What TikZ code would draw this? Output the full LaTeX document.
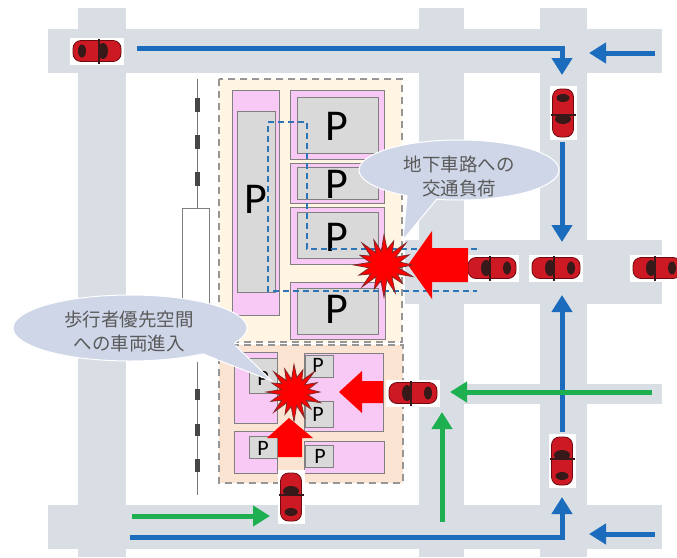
\documentclass[tikz,border=0pt]{standalone}
\usepackage{fontspec}
\newfontfamily\jpfont{Noto Sans CJK JP}
\newfontfamily\pfont{Carlito}
\usetikzlibrary{arrows.meta}

\definecolor{roadc}{RGB}{217,222,228}
\definecolor{creamc}{RGB}{255,245,226}
\definecolor{peachc}{RGB}{252,228,210}
\definecolor{pinkc}{RGB}{249,201,245}
\definecolor{boxgray}{RGB}{217,217,217}
\definecolor{edgegray}{RGB}{128,128,128}
\definecolor{dashgray}{RGB}{150,150,150}
\definecolor{routeblue}{RGB}{46,117,182}
\definecolor{arrblue}{RGB}{28,108,190}
\definecolor{arrgreen}{RGB}{30,175,80}
\definecolor{carred}{RGB}{205,25,35}
\definecolor{cardark}{RGB}{110,10,15}
\definecolor{carwin}{RGB}{55,25,25}
\definecolor{burstedge}{RGB}{130,40,40}
\definecolor{bubblec}{RGB}{206,214,232}
\definecolor{bubtextc}{RGB}{90,90,90}
\definecolor{railc}{RGB}{70,70,70}
\definecolor{raillight}{RGB}{120,120,120}

\tikzset{
  road/.style={fill=roadc, draw=none},
  lotupper/.style={fill=creamc, draw=dashgray, dash pattern=on 7pt off 5pt, line width=1.1pt},
  lotlower/.style={fill=peachc, draw=dashgray, dash pattern=on 7pt off 5pt, line width=1.1pt},
  pinkbox/.style={fill=pinkc, draw=edgegray, line width=0.7pt},
  graybox/.style={fill=boxgray, draw=edgegray, line width=0.7pt},
  bigP/.style={font=\pfont\fontsize{44}{44}\selectfont, inner sep=0pt},
  smallP/.style={font=\pfont\fontsize{22}{22}\selectfont, inner sep=0pt},
  route/.style={draw=routeblue, dash pattern=on 6pt off 4pt, line width=1.4pt},
  bluearrow/.style={draw=arrblue, line width=5pt, -{Triangle[width=20pt,length=17pt]}},
  greenarrow/.style={draw=arrgreen, line width=5pt, -{Triangle[width=20pt,length=17pt]}},
  blockarrow/.style={fill=red, draw=none},
  burststyle/.style={fill=red, draw=burstedge, line width=0.8pt, line join=miter},
  bubble/.style={fill=bubblec, draw=white, line width=1pt},
  bubtext/.style={font=\jpfont\fontsize{18.5}{24}\selectfont, text=bubtextc, align=center, inner sep=0pt},
  railthin/.style={draw=raillight, line width=1pt},
  railtie/.style={draw=railc, line width=5pt},
  car/.pic={
    \fill[white] (-27,-13.5) rectangle (27,13.5);
    \draw[draw=cardark, fill=carred, line width=0.8pt, rounded corners=8pt]
      (-24,-10.5) rectangle (24,10.5);
    \fill[carwin] (-15,0) ellipse [x radius=4pt, y radius=6.5pt];
    \fill[carwin] (6,0) ellipse [x radius=5pt, y radius=8pt];
    \draw[carwin, line width=1.3pt] (2,-12.5) -- (2,12.5);
  },
  burst/.pic={
    \draw[burststyle] (0:28) -- (11:15) -- (22:31) -- (34:16) -- (45:26) -- (56:14)
      -- (68:30) -- (79:15) -- (90:32) -- (101:16) -- (112:26) -- (124:14)
      -- (135:31) -- (146:16) -- (158:27) -- (169:15) -- (180:30) -- (191:14)
      -- (202:26) -- (214:16) -- (225:31) -- (236:15) -- (248:27) -- (259:14)
      -- (270:30) -- (281:16) -- (292:26) -- (304:15) -- (315:31) -- (326:14)
      -- (338:27) -- (349:16) -- cycle;
  }
}

\begin{document}
\begin{tikzpicture}[x=1pt, y=-1pt]
\useasboundingbox (0,0) rectangle (677,557);
\fill[white] (0,0) rectangle (677,557);

% street grid
\fill[road] (48,29) rectangle (662,73);
\fill[road] (48,505) rectangle (662,549);
\fill[road] (78,8) rectangle (126,557);
\fill[road] (419,8) rectangle (464,557);
\fill[road] (540,8) rectangle (587,557);
\fill[road] (405,240) rectangle (662,304);
\fill[road] (419,384) rectangle (662,404);

% railway and station building along the west side
\draw[railthin] (197,79) -- (197,208);
\draw[railtie] (197,98) -- (197,112);
\draw[railtie] (197,135) -- (197,149);
\draw[railtie] (197,172) -- (197,186);
\draw[edgegray, fill=white, line width=0.9pt] (182,208) rectangle (209,310);
\draw[railthin] (197,362) -- (197,495);
\draw[railtie] (197,389) -- (197,400);
\draw[railtie] (197,424) -- (197,436);
\draw[railtie] (197,459) -- (197,472);

% upper block with its parking
\draw[lotupper] (219,79) rectangle (402,342);
\draw[pinkbox] (232,90) rectangle (279,315);
\draw[graybox] (237,111) rectangle (275,292);
\draw[pinkbox] (290,90) rectangle (384,159);
\draw[graybox] (297,97) rectangle (378,153);
\draw[pinkbox] (290,163) rectangle (384,203);
\draw[graybox] (297,167) rectangle (378,199);
\draw[pinkbox] (290,207) rectangle (384,264);
\draw[graybox] (297,212) rectangle (378,258);
\draw[pinkbox] (290,282) rectangle (385,339);
\draw[graybox] (297,288) rectangle (378,334);
\node[bigP] (pL)  at (256,199) {P};
\node[bigP] (pR1) at (337,126) {P};
\node[bigP] (pR2) at (337,184) {P};
\node[bigP] (pR3) at (337,237) {P};
\node[bigP] (pR4) at (337,309) {P};

% lower block with its parking
\draw[lotlower] (219,345) rectangle (403,483);
\draw[pinkbox] (234,352) rectangle (277,423);
\draw[graybox] (249,358) rectangle (277,393);
\draw[pinkbox] (304,353) rectangle (383,431);
\draw[graybox] (305,355) rectangle (333,377);
\draw[graybox] (305,401) rectangle (333,427);
\draw[pinkbox] (234,431) rectangle (277,473);
\draw[graybox] (249,436) rectangle (277,458);
\draw[pinkbox] (304,441) rectangle (384,473);
\draw[graybox] (305,445) rectangle (333,467);
\node[smallP] (pA)  at (263,378) {P};
\node[smallP] (pB1) at (318,365) {P};
\node[smallP] (pB2) at (318,414) {P};
\node[smallP] (pC)  at (263,448) {P};
\node[smallP] (pD)  at (320,456) {P};

% underground access road outline
\coordinate (u1) at (477,249);
\coordinate (u2) at (307,249);
\coordinate (u3) at (307,122);
\coordinate (u4) at (268,122);
\coordinate (u5) at (268,291);
\coordinate (u6) at (477,291);
\draw[route] (u1) -- (u2) -- (u3) -- (u4) -- (u5) -- (u6);

% traffic flows
\coordinate (b1s) at (137,48);  \coordinate (b1c) at (562,48);  \coordinate (b1e) at (562,75);
\coordinate (b2s) at (655,53);  \coordinate (b2e) at (589,53);
\coordinate (b3s) at (562,142); \coordinate (b3e) at (562,242);
\coordinate (b4s) at (130,537); \coordinate (b4c) at (562,537); \coordinate (b4e) at (562,497);
\coordinate (b5s) at (562,432); \coordinate (b5e) at (562,295);
\coordinate (b6s) at (655,534); \coordinate (b6e) at (589,534);
\draw[bluearrow] (b1s) -- (b1c) -- (b1e);
\draw[bluearrow] (b2s) -- (b2e);
\draw[bluearrow] (b3s) -- (b3e);
\draw[bluearrow] (b4s) -- (b4c) -- (b4e);
\draw[bluearrow] (b5s) -- (b5e);
\draw[bluearrow] (b6s) -- (b6e);

\coordinate (g1s) at (652,392); \coordinate (g1e) at (450,392);
\coordinate (g2s) at (442,522); \coordinate (g2e) at (442,412);
\coordinate (g3s) at (132,516); \coordinate (g3e) at (270,516);
\draw[greenarrow] (g1s) -- (g1e);
\draw[greenarrow] (g2s) -- (g2e);
\draw[greenarrow] (g3s) -- (g3e);

% cars
\pic (car1) at (97,51) {car};
\pic[rotate=-90] (car2) at (563,113) {car};
\pic[rotate=180] (car3) at (492,268) {car};
\pic[rotate=180] (car4) at (556,268) {car};
\pic[rotate=180] (car5) at (657,268) {car};
\pic[rotate=180] (car6) at (413,393) {car};
\pic[rotate=90] (car7) at (562,461) {car};
\pic[rotate=90] (car8) at (291,497) {car};

% speech bubbles
\draw[bubble] (459,170) ellipse [x radius=100pt, y radius=30pt];
\fill[bubblec] (408,190) -- (403,240) -- (440,194) -- cycle;
\draw[white, line width=1pt] (407,196) -- (403,240) -- (437,199);
\node[bubtext] (note1) at (459,176) {地下車路への\\交通負荷};

\draw[bubble] (130,328) ellipse [x radius=117pt, y radius=33pt];
\fill[bubblec] (200,352) -- (272,381) -- (232,341) -- cycle;
\draw[white, line width=1pt] (205,355) -- (272,381) -- (236,346);
\node[bubtext] (note2) at (129,331) {歩行者優先空間\\への車両進入};

% conflict points: vehicles pushing into the blocks
\fill[blockarrow] (408,265) -- (432,231) -- (432,248) -- (468,248) -- (468,282)
  -- (432,282) -- (432,299) -- cycle;
\fill[blockarrow] (339,392) -- (362,371) -- (362,381) -- (383,381) -- (383,403)
  -- (362,403) -- (362,413) -- cycle;
\fill[blockarrow] (289,418) -- (313,438) -- (302,438) -- (302,457) -- (278,457)
  -- (278,438) -- (267,438) -- cycle;
\pic (burst1) at (384,265) {burst};
\pic[scale=0.92] (burst2) at (294,392) {burst};
\end{tikzpicture}
\end{document}
